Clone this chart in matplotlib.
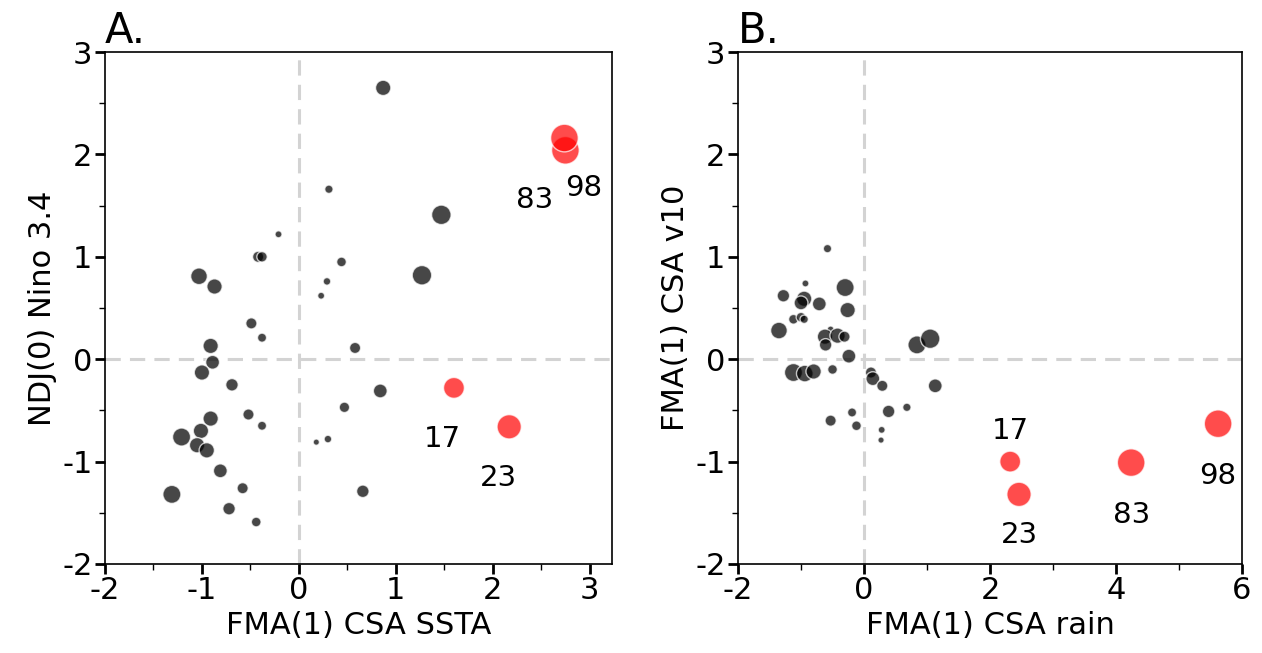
import numpy as np
import matplotlib
matplotlib.use("Agg")
import matplotlib.pyplot as plt
from matplotlib.ticker import MultipleLocator

plt.rcParams['axes.unicode_minus'] = False

# panel A: FMA(1) CSA SSTA vs NDJ(0) Nino 3.4 (size ~ pixel diameter)
a_x = [0.87, 0.31, 1.47, -0.21, -0.42, -0.38, 0.44, -1.03, 1.27, -0.87, 0.29, 0.23,
       -0.49, -0.38, 0.58, -0.91, -0.89, -1.00, -0.69, 0.84, 0.47, -0.52, -0.38, -0.91,
       -1.01, -1.21, -1.05, -0.95, 0.30, 0.18, -0.81, -0.58, 0.66, -1.31, -0.72, -0.44, 0.23]
a_y = [2.65, 1.66, 1.41, 1.22, 1.00, 1.00, 0.95, 0.81, 0.82, 0.71, 0.76, 0.62,
       0.35, 0.21, 0.11, 0.13, -0.03, -0.13, -0.25, -0.31, -0.47, -0.54, -0.65, -0.58,
       -0.70, -0.76, -0.84, -0.89, -0.78, -0.81, -1.09, -1.26, -1.29, -1.32, -1.46, -1.59, -2.08]
a_size = [14.7, 8, 18.7, 6.7, 10.7, 10, 9.3, 16, 18.7, 14.7, 7.3, 6.7,
          10.7, 8.7, 10.7, 14.7, 13.3, 14.7, 12, 13.3, 10, 10.7, 8.7, 14.7,
          14.7, 17.3, 14.7, 14.7, 7.3, 6, 13.3, 10.7, 12, 17.3, 12, 9.3, 8]

# highlighted years
years = ["17", "23", "83", "98"]
a_red_x = [1.60, 2.17, 2.75, 2.74]
a_red_y = [-0.28, -0.66, 2.04, 2.16]
red_size = [20, 23.3, 26.5, 26.5]

# panel B: FMA(1) CSA rain vs FMA(1) CSA v10
b_x = [-0.58, -0.93, -1.28, -0.95, -1.00, -0.71, -0.30, -0.26, -1.12, -1.00, -0.95, -1.35,
       -0.53, -0.62, -0.42, -0.31, -0.61, -0.24, 0.84, 1.05, -1.12, -0.94, -0.80, -0.50,
       0.11, 0.14, 0.29, 1.13, 0.68, 0.39, -0.19, -0.53, -0.12, 0.28, 0.27]
b_y = [1.08, 0.74, 0.62, 0.59, 0.55, 0.54, 0.70, 0.48, 0.39, 0.41, 0.39, 0.28,
       0.29, 0.22, 0.23, 0.22, 0.14, 0.03, 0.14, 0.20, -0.13, -0.14, -0.12, -0.10,
       -0.13, -0.19, -0.26, -0.26, -0.47, -0.51, -0.52, -0.60, -0.65, -0.69, -0.79]
b_size = [8, 6.7, 12, 14.7, 13.3, 13.3, 17.3, 14.7, 9.3, 9.3, 8, 16,
          6.7, 14.7, 14.7, 10.7, 12, 13.3, 17.3, 18.7, 17.3, 16, 14.7, 9.3,
          10.7, 13.3, 10.7, 13.3, 8, 12, 8.7, 10.7, 9.3, 6.7, 6]
b_red_x = [2.32, 2.46, 4.24, 5.62]
b_red_y = [-1.00, -1.32, -1.01, -0.63]

# label offsets in points
a_offsets = [(-8, -37), (-8, -37), (-22, -36), (14, -36)]
b_offsets = [(0, 22), (0, -29), (0, -38), (0, -38)]


def to_s(d):
    return (np.array(d) * 0.75) ** 2


def panel(ax, x, y, size, rx, ry, offsets, title, xlabel, ylabel):
    ax.axhline(0, color='lightgray', ls='--', lw=2.2, dashes=(5, 3), zorder=0)
    ax.axvline(0, color='lightgray', ls='--', lw=2.2, dashes=(5, 3), zorder=0)
    ax.scatter(x, y, s=to_s(size), color='black', alpha=0.72,
               edgecolor='white', linewidth=1, zorder=2)
    ax.scatter(rx, ry, s=to_s(red_size), color='red', alpha=0.7,
               edgecolor='white', linewidth=1, zorder=3)
    for lab, px, py, off in zip(years, rx, ry, offsets):
        ax.annotate(lab, (px, py), xytext=off, textcoords='offset points',
                    ha='center', va='center', fontsize=21)
    ax.set_ylim(-2, 3)
    ax.yaxis.set_major_locator(MultipleLocator(1))
    ax.yaxis.set_minor_locator(MultipleLocator(0.5))
    ax.set_xlabel(xlabel, fontsize=22, labelpad=4)
    ax.set_ylabel(ylabel, fontsize=22, labelpad=4)
    ax.set_title(title, loc='left', fontsize=30, pad=3)
    ax.tick_params(which='major', labelsize=22, length=7, width=2, pad=2)
    ax.tick_params(which='minor', length=4, width=1)
    for sp in ax.spines.values():
        sp.set_linewidth(1.2)


fig = plt.figure(figsize=(12.62, 6.53), dpi=100)
ax1 = fig.add_axes([0.0832, 0.1363, 0.4017, 0.784])
ax2 = fig.add_axes([0.5848, 0.1363, 0.3994, 0.784])

panel(ax1, a_x, a_y, a_size, a_red_x, a_red_y, a_offsets,
      "A.", "FMA(1) CSA SSTA", "NDJ(0) Nino 3.4")
ax1.set_xlim(-2, 3.23)
ax1.xaxis.set_major_locator(MultipleLocator(1))
ax1.xaxis.set_minor_locator(MultipleLocator(0.5))

panel(ax2, b_x, b_y, b_size, b_red_x, b_red_y, b_offsets,
      "B.", "FMA(1) CSA rain", "FMA(1) CSA v10")
ax2.set_xlim(-2, 6)
ax2.xaxis.set_major_locator(MultipleLocator(2))
ax2.xaxis.set_minor_locator(MultipleLocator(1))

fig.savefig("out.png", dpi=100)
